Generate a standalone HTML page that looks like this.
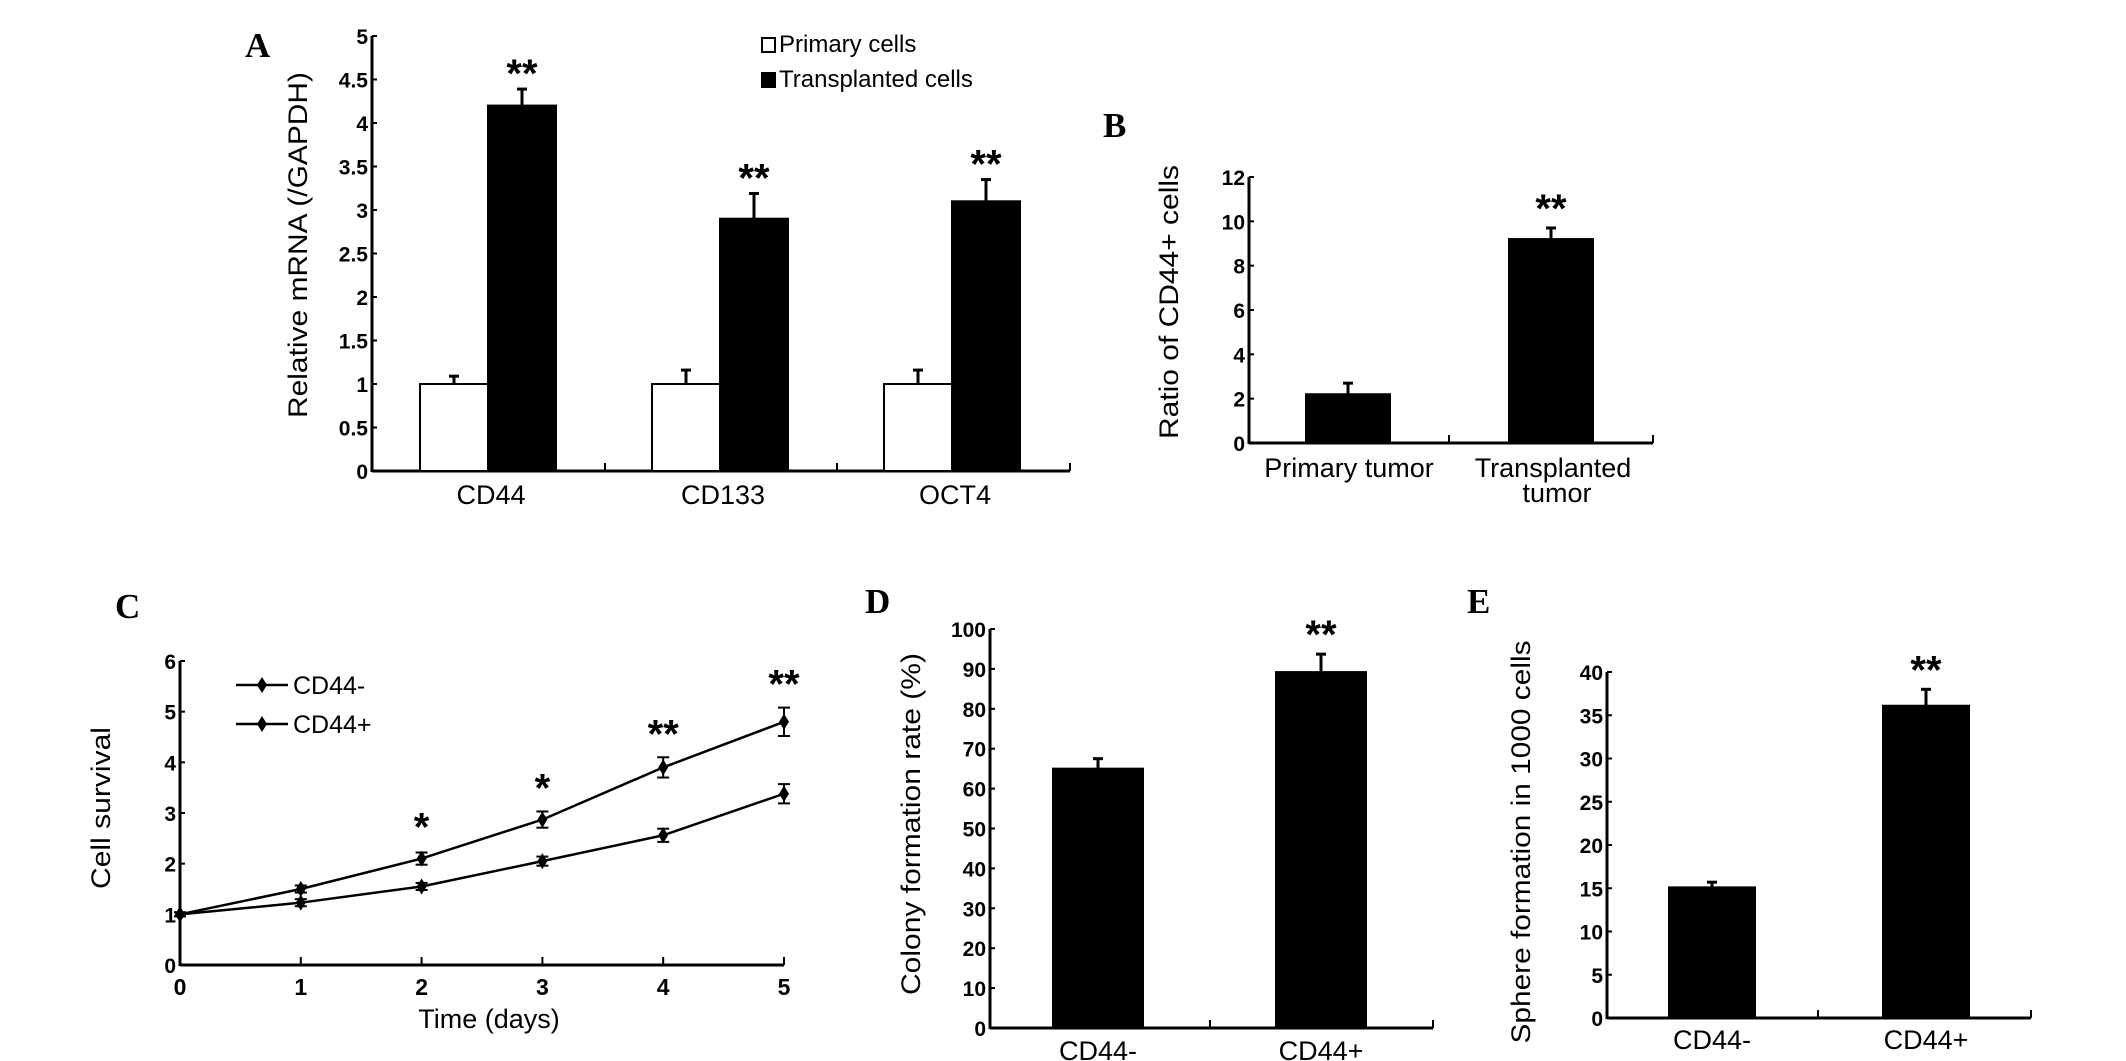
<!DOCTYPE html>
<html><head><meta charset="utf-8"><style>
html,body{margin:0;padding:0;background:#fff;}
svg{display:block;}
text{font-family:"Liberation Sans",Arial,sans-serif;fill:#000;}
.tick{font-weight:bold;font-size:21px;}
.panel{font-family:"Liberation Serif",serif;font-weight:bold;font-size:35px;}
.cat{font-size:27px;}
.title{font-size:27px;}
.star{font-weight:bold;font-size:40px;}
</style></head><body>
<svg id="fig" width="2126" height="1061" viewBox="0 0 2126 1061" xmlns="http://www.w3.org/2000/svg"></svg>
<script>
// Panel A data
const aCategories = ["CD44", "CD133", "OCT4"];
const aPrimary = [1, 1, 1];
const aPrimaryErr = [0.09, 0.16, 0.16];
const aTransplanted = [4.2, 2.9, 3.1];
const aTransplantedErr = [0.19, 0.29, 0.25];
const aTicks = ["0","0.5","1","1.5","2","2.5","3","3.5","4","4.5","5"];
// Panel B data
const bCategories = ["Primary tumor", "Transplanted"];
const bValues = [2.2, 9.2];
const bErr = [0.5, 0.5];
const bTicks = ["0","2","4","6","8","10","12"];
// Panel C data
const cDays = [0, 1, 2, 3, 4, 5];
const cNeg = [1, 1.23, 1.55, 2.05, 2.56, 3.38];
const cNegErr = [0.04, 0.07, 0.07, 0.09, 0.13, 0.19];
const cPos = [1, 1.5, 2.1, 2.87, 3.9, 4.8];
const cPosErr = [0.04, 0.07, 0.12, 0.16, 0.2, 0.28];
const cSig = ["", "", "*", "*", "**", "**"];
const cTicks = ["0","1","2","3","4","5","6"];
// Panel D data
const dCategories = ["CD44-", "CD44+"];
const dValues = [65, 89.2];
const dErr = [2.5, 4.5];
const dTicks = ["0","10","20","30","40","50","60","70","80","90","100"];
// Panel E data
const eCategories = ["CD44-", "CD44+"];
const eValues = [15.1, 36.1];
const eErr = [0.6, 1.9];
const eTicks = ["0","5","10","15","20","25","30","35","40"];

const NS = "http://www.w3.org/2000/svg";
const svg = document.getElementById("fig");
function mk(tag, attrs, parent, txt) {
  const el = document.createElementNS(NS, tag);
  for (const k in attrs) el.setAttribute(k, attrs[k]);
  if (txt !== undefined) el.textContent = txt;
  (parent || svg).appendChild(el);
  return el;
}
function group(name) {
  const g = mk("g", {});
  
  
  return g;
}
function yAxis(g, x, yTop, yBot, ticks, maxV) {
  const l = mk("line", {x1:x, y1:yTop, x2:x, y2:yBot+1, stroke:"#000","stroke-width":3}, g);
  
  
  ticks.forEach((t) => {
    const v = parseFloat(t);
    const y = yBot - (yBot - yTop) * v / maxV;
    mk("line", {x1:x, y1:y, x2:x+5, y2:y, stroke:"#000","stroke-width":2}, g);
    const tx = mk("text", {x:x-4, y:y+8, "text-anchor":"end", class:"tick"}, g, t);
    
    
  });
}
function xAxis(g, x1, x2, y, seps) {
  const l = mk("line", {x1:x1, y1:y, x2:x2, y2:y, stroke:"#000","stroke-width":3}, g);
  
  
  seps.forEach(sx => mk("line", {x1:sx, y1:y, x2:sx, y2:y-8, stroke:"#000","stroke-width":2}, g));
}
function title(g, text, cx, cy, len) {
  const t = mk("text", {x:0, y:0, "text-anchor":"middle", class:"title", transform:`translate(${cx},${cy}) rotate(-90)`, textLength:len, lengthAdjust:"spacingAndGlyphs"}, g, text);
  
  
}
function bar(g, x, w, yScale, v, err, fill, name) {
  const yT = yScale(v), y0 = yScale(0);
  const eY = yScale(v + err), cx = x + w / 2;
  mk("line", {x1:cx, y1:yT, x2:cx, y2:eY, stroke:"#000","stroke-width":3}, g);
  mk("line", {x1:cx-5, y1:eY, x2:cx+5, y2:eY, stroke:"#000","stroke-width":3}, g);
  const r = mk("rect", {x:x, y:yT, width:w, height:y0-yT, fill:fill, stroke:"#000","stroke-width":2}, g);
  
  
  return eY;
}
function star(g, txt, x, y) {
  const s = mk("text", {x:x, y:y, "text-anchor":"middle", class:"star"}, g, txt);
  
  
}
function panelLabel(txt, x, y) {
  const t = mk("text", {x:x, y:y, class:"panel"}, svg, txt);
  
  
}

// ---------- Panel A ----------
(function(){
  const g = group("panel-a-chart");
  const ax = 372, yTop = 36, yBot = 471, maxV = 5;
  const ys = v => yBot - (yBot - yTop) * v / maxV;
  yAxis(g, ax, yTop, yBot, aTicks, maxV);
  xAxis(g, ax, 1070, yBot, [605, 837, 1070]);
  aCategories.forEach((c, i) => {
    const center = 488 + i * 232;
    bar(g, center - 68, 68, ys, aPrimary[i], aPrimaryErr[i], "#fff", "bar-primary-" + c.toLowerCase());
    const eY = bar(g, center, 68, ys, aTransplanted[i], aTransplantedErr[i], "#000", "bar-transplanted-" + c.toLowerCase());
    star(g, "**", center + 34, eY - 2);
    const t = mk("text", {x:center + 3, y:504, "text-anchor":"middle", class:"cat"}, g, c);
    
    
  });
  title(g, "Relative mRNA (/GAPDH)", 307, 245, 346);
  const l1 = mk("rect", {x:762, y:38, width:13, height:14, fill:"#fff", stroke:"#000","stroke-width":2}, g);
  
  
  const t1 = mk("text", {x:779, y:52, style:"font-size:24px"}, g, "Primary cells");
  
  
  const l2 = mk("rect", {x:762, y:73, width:13, height:14, fill:"#000", stroke:"#000","stroke-width":2}, g);
  
  
  const t2 = mk("text", {x:779, y:87, style:"font-size:24px"}, g, "Transplanted cells");
  
  
})();
panelLabel("A", 245, 57);

// ---------- Panel B ----------
(function(){
  const g = group("panel-b-chart");
  const ax = 1249, yTop = 177, yBot = 443, maxV = 12;
  const ys = v => yBot - (yBot - yTop) * v / maxV;
  yAxis(g, ax, yTop, yBot, bTicks, maxV);
  xAxis(g, ax, 1653, yBot, [1449, 1653]);
  const centers = [1348, 1551];
  bValues.forEach((v, i) => {
    const eY = bar(g, centers[i] - 42, 84, ys, v, bErr[i], "#000", "bar-" + (i ? "transplanted" : "primary") + "-tumor");
    if (i === 1) star(g, "**", centers[i], eY - 6);
  });
  const t1 = mk("text", {x:1349, y:477, "text-anchor":"middle", class:"cat"}, g, "Primary tumor");
  
  
  const t2 = mk("text", {x:1553, y:477, "text-anchor":"middle", class:"cat"}, g, bCategories[1]);
  
  
  const t3 = mk("text", {x:1557, y:502, "text-anchor":"middle", class:"cat"}, g, "tumor");
  
  
  title(g, "Ratio of CD44+ cells", 1178, 302, 274);
})();
panelLabel("B", 1103, 137);

// ---------- Panel C ----------
(function(){
  const g = group("panel-c-chart");
  const ax = 180, yTop = 661, yBot = 965, maxV = 6;
  const ys = v => yBot - (yBot - yTop) * v / maxV;
  const xs = t => ax + t * 120.8;
  yAxis(g, ax, yTop, yBot, cTicks, maxV);
  const xl = mk("line", {x1:ax, y1:yBot, x2:xs(5), y2:yBot, stroke:"#000","stroke-width":3}, g);
  
  
  cDays.forEach(d => {
    mk("line", {x1:xs(d), y1:yBot, x2:xs(d), y2:yBot-8, stroke:"#000","stroke-width":2}, g);
    const t = mk("text", {x:xs(d), y:yBot+30, "text-anchor":"middle", class:"tick", style:"font-size:23px"}, g, String(d));
    
    
  });
  function series(vals, errs, name) {
    const pts = cDays.map((d, i) => xs(d) + "," + ys(vals[i])).join(" ");
    const pl = mk("polyline", {points:pts, fill:"none", stroke:"#000","stroke-width":2.5}, g);
    
    
    cDays.forEach((d, i) => {
      const x = xs(d), y = ys(vals[i]);
      const y1 = ys(vals[i] + errs[i]), y2 = ys(vals[i] - errs[i]);
      mk("line", {x1:x, y1:y1, x2:x, y2:y2, stroke:"#000","stroke-width":2}, g);
      mk("line", {x1:x-6, y1:y1, x2:x+6, y2:y1, stroke:"#000","stroke-width":2}, g);
      mk("line", {x1:x-6, y1:y2, x2:x+6, y2:y2, stroke:"#000","stroke-width":2}, g);
      const m = mk("polygon", {points:`${x},${y-8} ${x+5},${y} ${x},${y+8} ${x-5},${y}`, fill:"#000"}, g);
      
      
    });
  }
  series(cNeg, cNegErr, "line-cd44-neg");
  series(cPos, cPosErr, "line-cd44-pos");
  cDays.forEach((d, i) => {
    if (cSig[i]) star(g, cSig[i], xs(d), ys(cPos[i] + cPosErr[i]) - 10 - (i === 2 ? 2 : 0));
  });
  [["CD44-", 685], ["CD44+", 724]].forEach(([lab, y]) => {
    mk("line", {x1:236, y1:y, x2:288, y2:y, stroke:"#000","stroke-width":2.5}, g);
    mk("polygon", {points:`262,${y-8} 267,${y} 262,${y+8} 257,${y}`, fill:"#000"}, g);
    const t = mk("text", {x:293, y:y+9, style:"font-size:25px"}, g, lab);
    
    
  });
  const xt = mk("text", {x:489, y:1028, "text-anchor":"middle", class:"cat"}, g, "Time (days)");
  
  
  title(g, "Cell survival", 110, 808, 162);
})();
panelLabel("C", 115, 618);

// ---------- Panel D ----------
(function(){
  const g = group("panel-d-chart");
  const ax = 990, yTop = 629, yBot = 1028, maxV = 100;
  const ys = v => yBot - (yBot - yTop) * v / maxV;
  yAxis(g, ax, yTop, yBot, dTicks, maxV);
  xAxis(g, ax, 1433, yBot, [1210, 1433]);
  const centers = [1098, 1321];
  dValues.forEach((v, i) => {
    const eY = bar(g, centers[i] - 45, 90, ys, v, dErr[i], "#000", "bar-" + dCategories[i].toLowerCase());
    if (i === 1) star(g, "**", centers[i], eY - 6);
    const t = mk("text", {x:centers[i], y:1060, "text-anchor":"middle", class:"cat"}, g, dCategories[i]);
    
    
  });
  title(g, "Colony formation rate (%)", 920, 824, 342);
})();
panelLabel("D", 865, 613);

// ---------- Panel E ----------
(function(){
  const g = group("panel-e-chart");
  const ax = 1607, yTop = 672, yBot = 1018, maxV = 40;
  const ys = v => yBot - (yBot - yTop) * v / maxV;
  yAxis(g, ax, yTop, yBot, eTicks, maxV);
  xAxis(g, ax, 2031, yBot, [1818, 2031]);
  const centers = [1712, 1926];
  eValues.forEach((v, i) => {
    const eY = bar(g, centers[i] - 43, 86, ys, v, eErr[i], "#000", "bar-" + eCategories[i].toLowerCase());
    if (i === 1) star(g, "**", centers[i], eY - 6);
    const t = mk("text", {x:centers[i], y:1049, "text-anchor":"middle", class:"cat"}, g, eCategories[i]);
    
    
  });
  title(g, "Sphere formation in 1000 cells", 1530, 842, 403);
})();
panelLabel("E", 1467, 613);
</script>
</body></html>
